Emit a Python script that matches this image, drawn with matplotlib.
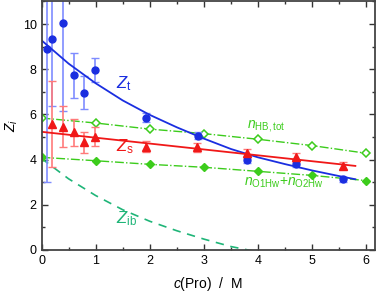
import numpy as np
import matplotlib
matplotlib.use('Agg')
import matplotlib.pyplot as plt
from matplotlib.ticker import MultipleLocator

# data
conc = [0.1, 0.2, 0.39, 0.6, 0.79, 0.99, 1.94, 2.89, 3.8, 4.7, 5.57]
zt = [8.9, 9.32, 10.04, 7.74, 6.95, 7.96, 5.85, 5.06, 3.98, 3.82, 3.13]
zt_err = [5.9, 2.95, 3.9, 1.0, 0.73, 0.53, 0.2, 0.15, 0.15, 0.15, 0.1]

conc_s = [0.19, 0.39, 0.6, 0.79, 0.99, 1.94, 2.88, 3.8, 4.7, 5.57]
zs = [5.57, 5.46, 5.2, 4.77, 5.01, 4.57, 4.54, 4.28, 4.1, 3.73]
zs_err = [1.9, 0.9, 0.6, 0.47, 0.42, 0.25, 0.2, 0.2, 0.2, 0.15]

conc_n = [0, 1, 2, 3, 4, 5, 6]
n_hb_tot = [5.84, 5.62, 5.35, 5.15, 4.9, 4.62, 4.28]
n_o1o2 = [4.1, 3.95, 3.79, 3.66, 3.48, 3.3, 3.07]

# fitted curves
fit_x = [0, 0.5, 1, 1.5, 2, 2.5, 3, 3.5, 4, 4.5, 5, 5.5, 5.8]
fit_zt = [9.28, 8.25, 7.38, 6.62, 5.98, 5.43, 4.93, 4.47, 4.1, 3.8, 3.52, 3.27, 3.13]
fit_zs_x = [0, 5.8]
fit_zs = [5.23, 3.72]

blue = '#1a2ee0'
red = '#f01818'
green = '#3ccc1c'
teal = '#1fb578'

plt.rcParams['font.family'] = 'Liberation Sans'
plt.rcParams['mathtext.fontset'] = 'custom'
plt.rcParams['mathtext.rm'] = 'Liberation Sans'
plt.rcParams['mathtext.it'] = 'Liberation Sans:italic'

fig = plt.figure(figsize=(3.79, 2.92), dpi=100)
ax = fig.add_axes([0.1095, 0.144, 0.8795, 0.851])

# Z_ib = Z_t - Z_s
zs_line = np.interp(fit_x, fit_zs_x, fit_zs)
z_ib = np.array(fit_zt) - zs_line

ax.plot(fit_x, z_ib, '--', color=teal, lw=1.2, dashes=(5, 4))
ax.plot(conc_n, n_hb_tot, '-.', color=green, lw=1, marker='D', ms=4.5,
        mfc='white', mec=green, mew=1.1)
ax.plot(conc_n, n_o1o2, '-.', color=green, lw=1, marker='D', ms=4.5,
        mfc=green, mec=green)

ax.errorbar(conc, zt, yerr=zt_err, fmt='none', ecolor='#7f8cff', elinewidth=1.2,
            capsize=3, capthick=1)
ax.errorbar(conc_s, zs, yerr=zs_err, fmt='none', ecolor='#ff7a7a', elinewidth=1.2,
            capsize=3, capthick=1)
ax.plot(fit_x, fit_zt, '-', color=blue, lw=1.3)
ax.plot(fit_zs_x, fit_zs, '-', color=red, lw=1.3)
ax.plot(conc, zt, 'o', color=blue, ms=5)
ax.plot(conc_s, zs, '^', color=red, ms=5.5)

ax.text(1.38, 7.15, r'$Z_\mathrm{t}$', color=blue, fontsize=12)
ax.text(1.38, 4.35, r'$Z_\mathrm{s}$', color=red, fontsize=12)
ax.text(1.38, 1.2, r'$Z_\mathrm{ib}$', color=teal, fontsize=12)
ax.text(3.8, 5.4, r'$n_\mathrm{HB,tot}$', color=green, fontsize=10)
ax.text(3.75, 2.85, r'$n_\mathrm{O1Hw}$+$n_\mathrm{O2Hw}$', color=green, fontsize=10)

ax.set_xlim(0, 6.16)
ax.set_ylim(0, 11)
ax.xaxis.set_major_locator(MultipleLocator(1))
ax.xaxis.set_minor_locator(MultipleLocator(0.5))
ax.yaxis.set_major_locator(MultipleLocator(2))
ax.yaxis.set_minor_locator(MultipleLocator(1))
ax.tick_params(which='both', direction='in', top=True, right=True, labelsize=9,
               color='#333333', width=1)
ax.tick_params(which='major', length=4)
ax.tick_params(which='minor', length=2.5)
for s in ax.spines.values():
    s.set_linewidth(1.3)
    s.set_color('#444444')

ax.set_xlabel(r'$c$(Pro)  /  M', fontsize=10, labelpad=6)
ax.set_ylabel(r'$Z_i$', fontsize=10, labelpad=2)

fig.savefig('out.png', dpi=100)
